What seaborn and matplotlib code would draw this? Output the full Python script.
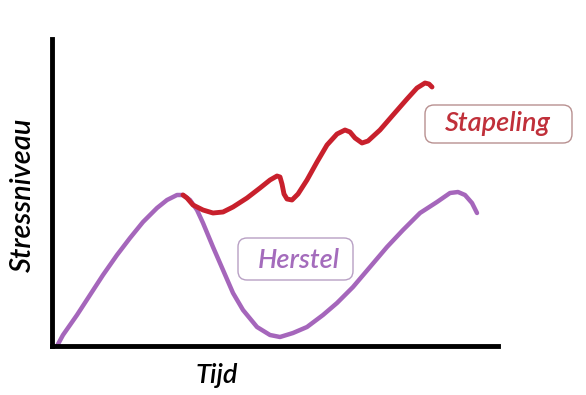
import matplotlib
matplotlib.use("Agg")
import matplotlib.pyplot as plt
from matplotlib.patches import FancyBboxPatch
from matplotlib.transforms import IdentityTransform
import seaborn as sns
import pandas as pd

# Data (time, stress level) in arbitrary units
herstel_tijd = [5, 11, 25, 38, 51, 65, 78, 91, 105, 115, 125, 131, 138, 145, 151, 161, 171,
                181, 191, 205, 218, 228, 241, 255, 271, 285, 301, 318, 335, 351, 368, 385,
                398, 406, 413, 420, 425]
herstel_stress = [0, 11, 31, 51, 71, 91, 108, 124, 138, 146, 151, 151, 146, 136, 123, 99, 76,
                  53, 36, 19, 11, 9, 13, 19, 31, 43, 59, 79, 99, 116, 133, 144,
                  153, 154, 151, 143, 133]
stapeling_tijd = [131, 135, 141, 151, 161, 171, 181, 195, 208, 218, 225, 228, 230, 232, 235,
                  240, 246, 255, 265, 275, 285, 293, 298, 303, 310, 316, 328, 341, 355, 365,
                  373, 377, 380]
stapeling_stress = [151, 148, 141, 136, 133, 134, 139, 148, 158, 166, 170, 169, 162, 152, 147,
                    146, 152, 166, 184, 201, 212, 216, 214, 208, 203, 205, 216, 231, 247, 258,
                    263, 262, 259]

x_label = "Tijd"
y_label = "Stressniveau"
label_stapeling = "Stapeling"
label_herstel = "Herstel"

PURPLE = "#a566bb"
RED = "#c8202c"

sns.set_theme(style="white")
plt.rcParams['font.family'] = ['Lato', 'DejaVu Sans']

W, H = 586, 395
fig = plt.figure(figsize=(W / 100, H / 100), dpi=100)
ax = fig.add_axes([52 / W, (H - 346) / H, 446 / W, 307 / H])

df_h = pd.DataFrame({"tijd": herstel_tijd, "stress": herstel_stress})
df_s = pd.DataFrame({"tijd": stapeling_tijd, "stress": stapeling_stress})

sns.lineplot(data=df_h, x="tijd", y="stress", ax=ax, color=PURPLE, lw=3.2,
             solid_capstyle="round", solid_joinstyle="round")
sns.lineplot(data=df_s, x="tijd", y="stress", ax=ax, color=RED, lw=3.5,
             solid_capstyle="round", solid_joinstyle="round")

ax.set_xlim(0, 446)
ax.set_ylim(0, 307)
ax.set_xticks([])
ax.set_yticks([])
ax.set_xlabel("")
ax.set_ylabel("")
for s in ["top", "right"]:
    ax.spines[s].set_visible(False)
for s in ["left", "bottom"]:
    ax.spines[s].set_color("black")
    ax.spines[s].set_linewidth(3.5)

ident = IdentityTransform()
# Boxes (display pixel coords, origin bottom-left)
box1 = FancyBboxPatch((425, H - 143), 147, 38, boxstyle="round,pad=0,rounding_size=9",
                      transform=ident, fc="white", ec="#b89090", lw=1.0)
box2 = FancyBboxPatch((238, H - 280), 115, 42, boxstyle="round,pad=0,rounding_size=9",
                      transform=ident, fc="white", ec="#b8a0c4", lw=1.0)
fig.add_artist(box1)
fig.add_artist(box2)

fig.text(497.5, H - 131, label_stapeling, transform=ident, ha="center", va="baseline",
         color="#c0303a", fontsize=19.5, style="italic", fontweight="semibold")
fig.text(298.5, H - 268, label_herstel, transform=ident, ha="center", va="baseline",
         color="#a46cbc", fontsize=19.5, style="italic", fontweight="semibold")

fig.text(217, H - 383, x_label, transform=ident, ha="center", va="baseline",
         color="black", fontsize=19.5, style="italic", fontweight="semibold")
fig.text(23, H - 195, y_label, transform=ident, ha="center", va="center", rotation=90,
         color="black", fontsize=21, style="italic", fontweight="semibold")

fig.savefig("out.png", dpi=100, facecolor="white")
